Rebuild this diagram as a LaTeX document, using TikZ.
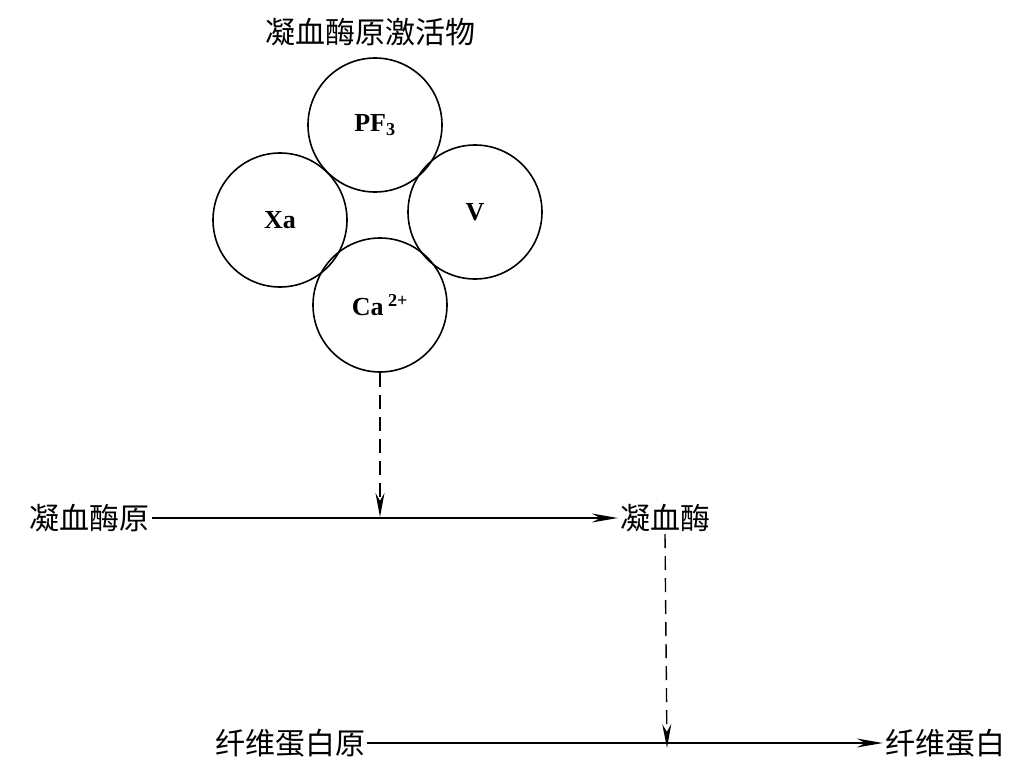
\documentclass[tikz,border=0pt]{standalone}
\usepackage{fontspec}
\setmainfont{Liberation Serif}
\newfontfamily\cjk{Noto Sans CJK SC}
\usetikzlibrary{arrows.meta}
\begin{document}
\begin{tikzpicture}[x=1pt,y=-1pt,
  ball/.style={circle,draw,line width=1.6pt,minimum size=134pt,inner sep=0pt,font=\fontsize{26}{30}\selectfont\bfseries},
  lab/.style={font=\fontsize{30}{36}\selectfont\cjk,inner sep=2pt},
  solidarr/.style={line width=1.4pt,-{Stealth[length=26pt,width=9pt]}},
  dasharr/.style={line width=1.4pt,dash pattern=on 14pt off 8pt,-{Stealth[length=24pt,width=9pt]}}]
\useasboundingbox (0,0) rectangle (1021,771);
\node[lab] (title) at (370,32) {凝血酶原激活物};
\node[ball] (pf) at (375,125) {PF\textsubscript{3}};
\node[ball] (xa) at (280,220) {Xa};
\node[ball] (v) at (475,212) {V};
\node[ball] (ca) at (380,305) {Ca\,\textsuperscript{2+}};
\node[lab] (pro) at (90,518) {凝血酶原};
\node[lab] (thr) at (665,518) {凝血酶};
\node[lab] (fgn) at (290,743) {纤维蛋白原};
\node[lab] (fib) at (945,743) {纤维蛋白};
\draw[solidarr] (pro.east) -- (thr.west);
\draw[solidarr] (fgn.east) -- (fib.west);
\coordinate (m1) at (380,517);
\coordinate (m2) at (667,748);
\draw[dasharr] (ca.south) -- (m1);
\draw[dasharr] (thr.south) -- (m2);
\end{tikzpicture}
\end{document}
